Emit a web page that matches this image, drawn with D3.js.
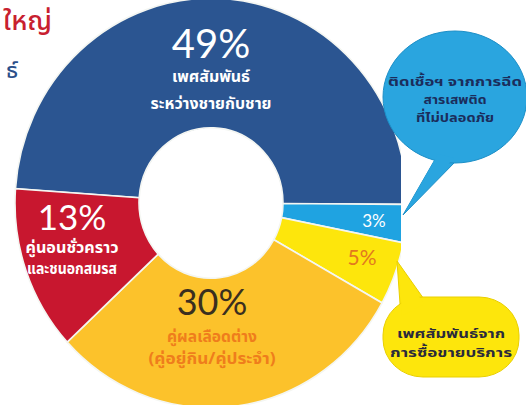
<!DOCTYPE html>
<html>
<head>
<meta charset="utf-8">
<script src="https://cdn.jsdelivr.net/npm/d3@7"></script>
<style>
  html, body { margin: 0; padding: 0; background: #ffffff; }
  svg { display: block; }
  .thai { font-family: "Noto Sans Thai", "Noto Sans Thai UI", "Noto Sans", "DejaVu Sans", sans-serif; font-weight: 700; }
  .pct { font-family: "Lato", "Open Sans", sans-serif; font-weight: 400; }
</style>
</head>
<body>
<script>
// ---- data ----
const categories = ["msm", "drugs", "sexwork", "discordant", "casual"];
const values = [49, 3, 5, 30, 13];
const pctLabels = ["49%", "3%", "5%", "30%", "13%"];
const sliceTexts = [
  ["เพศสัมพันธ์", "ระหว่างชายกับชาย"],
  [],
  [],
  ["คู่ผลเลือดต่าง", "(คู่อยู่กิน/คู่ประจำ)"],
  ["คู่นอนชั่วคราว", "และชนอกสมรส"]
];
const calloutDrugs = ["ติดเชื้อฯ จากการฉีด", "สารเสพติด", "ที่ไม่ปลอดภัย"];
const calloutSex = ["เพศสัมพันธ์จาก", "การซื้อขายบริการ"];
const headingFragments = ["ใหญ่", "ธ์"];

// ---- styles ----
const sliceColors = ["#2b5591", "#1fa3e1", "#fde60c", "#fcc22b", "#c8172f"];
const pctColors = ["#ffffff", "#ffffff", "#e2791f", "#3a2f1f", "#ffffff"];
const textColors = ["#ffffff", "#ffffff", "#ffffff", "#ef7d1c", "#ffffff"];

const W = 526, H = 405;
const svg = d3.select("body").append("svg").attr("width", W).attr("height", H);

const cx = 211, cy = 203, R = 196, r0 = 72, sy = 1.045;
const rot = 4 * Math.PI / 180;

const color = d3.scaleOrdinal().domain(categories).range(sliceColors);
const pie = d3.pie().sort(null).value(d => d.value)
  .startAngle(-Math.PI / 2 + rot).endAngle(3 * Math.PI / 2 + rot);
const data = categories.map((c, i) => ({ cat: c, value: values[i], i }));
const arcs = pie(data);
const arc = d3.arc().innerRadius(r0).outerRadius(R);

svg.append("defs").append("clipPath").attr("id", "clipR")
  .append("rect").attr("x", 0).attr("y", -10).attr("width", 401).attr("height", H + 20);

const g = svg.append("g").attr("clip-path", "url(#clipR)")
  .append("g").attr("transform", `translate(${cx},${cy}) scale(1,${sy})`);

g.selectAll("path.slice").data(arcs).join("path")
  .attr("class", "slice")
  .attr("d", arc)
  .attr("fill", d => color(d.data.cat))
  .attr("stroke", "#f4f6f2")
  .attr("stroke-width", 1.6);

// ---- heading fragments (cropped) ----
svg.append("text").attr("class", "thai").attr("x", 3).attr("y", 30)
  .attr("font-size", 27).attr("fill", "#c8202f")
  .style("font-weight", 500).text(headingFragments[0]);
svg.append("text").attr("class", "thai").attr("x", 18).attr("y", 78)
  .attr("text-anchor", "end").attr("font-size", 22).attr("fill", "#2b4f8a")
  .style("font-weight", 500).text(headingFragments[1]);

// ---- slice labels ----
const labelLayout = {
  msm:        { x: 211, y: 58, pSize: 40, tSize: 16, tY: [82, 109], tLen: [78, 121] },
  casual:     { x: 72,  y: 230, pSize: 35, tSize: 15.5, tY: [253, 274], tLen: [93, 90] },
  discordant: { x: 212, y: 315, pSize: 36, tSize: 16, tY: [342, 364], tLen: [90, 127] },
  drugs:      { x: 374, y: 227, pSize: 17, tSize: 0, tY: [], tLen: [] },
  sexwork:    { x: 362, y: 265, pSize: 21, tSize: 0, tY: [], tLen: [] }
};

arcs.forEach(a => {
  const L = labelLayout[a.data.cat];
  const i = a.data.i;
  svg.append("text").attr("class", "pct")
    .attr("x", L.x).attr("y", L.y).attr("text-anchor", "middle")
    .attr("font-size", L.pSize).attr("fill", pctColors[i])
    .text(pctLabels[i]);
  sliceTexts[i].forEach((t, k) => {
    svg.append("text").attr("class", "thai")
      .attr("x", L.x).attr("y", L.tY[k]).attr("text-anchor", "middle")
      .attr("font-size", L.tSize).attr("fill", textColors[i])
      .attr("textLength", L.tLen[k]).attr("lengthAdjust", "spacingAndGlyphs")
      .text(t);
  });
});

// ---- callout bubbles ----
// blue bubble (drugs)
const bb = svg.append("g");
bb.append("path")
  .attr("d", "M437,156 L403,215 L456,161 Z")
  .attr("fill", "#2aa5df").attr("stroke", "#1d8fc7").attr("stroke-width", 1);
bb.append("ellipse").attr("cx", 455).attr("cy", 97).attr("rx", 72).attr("ry", 66)
  .attr("fill", "#2aa5df").attr("stroke", "#1d8fc7").attr("stroke-width", 1);
bb.append("path")
  .attr("d", "M438,154 L406,210 L454,158 Z")
  .attr("fill", "#2aa5df");
const drugsLen = [134, 63, 78];
calloutDrugs.forEach((t, k) => {
  bb.append("text").attr("class", "thai")
    .attr("x", 455).attr("y", 86 + k * 18.2).attr("text-anchor", "middle")
    .attr("font-size", 13).attr("fill", "#1b2d5c")
    .attr("textLength", drugsLen[k]).attr("lengthAdjust", "spacingAndGlyphs")
    .text(t);
});

// yellow bubble (sex work)
const yb = svg.append("g");
yb.append("path")
  .attr("d", "M401,318 L397,261 L426,302 Z")
  .attr("fill", "#fde60c").attr("stroke", "#e9cf00").attr("stroke-width", 1);
yb.append("rect").attr("x", 383).attr("y", 297).attr("width", 136).attr("height", 80)
  .attr("rx", 40).attr("ry", 38)
  .attr("fill", "#fde60c").attr("stroke", "#e9cf00").attr("stroke-width", 1);
yb.append("path")
  .attr("d", "M402,316 L399,266 L424,304 Z")
  .attr("fill", "#fde60c");
const sexLen = [108, 122];
calloutSex.forEach((t, k) => {
  yb.append("text").attr("class", "thai")
    .attr("x", 451).attr("y", 338 + k * 18.5).attr("text-anchor", "middle")
    .attr("font-size", 13).attr("fill", "#2a2a3c")
    .attr("textLength", sexLen[k]).attr("lengthAdjust", "spacingAndGlyphs")
    .text(t);
});
</script>
</body>
</html>
